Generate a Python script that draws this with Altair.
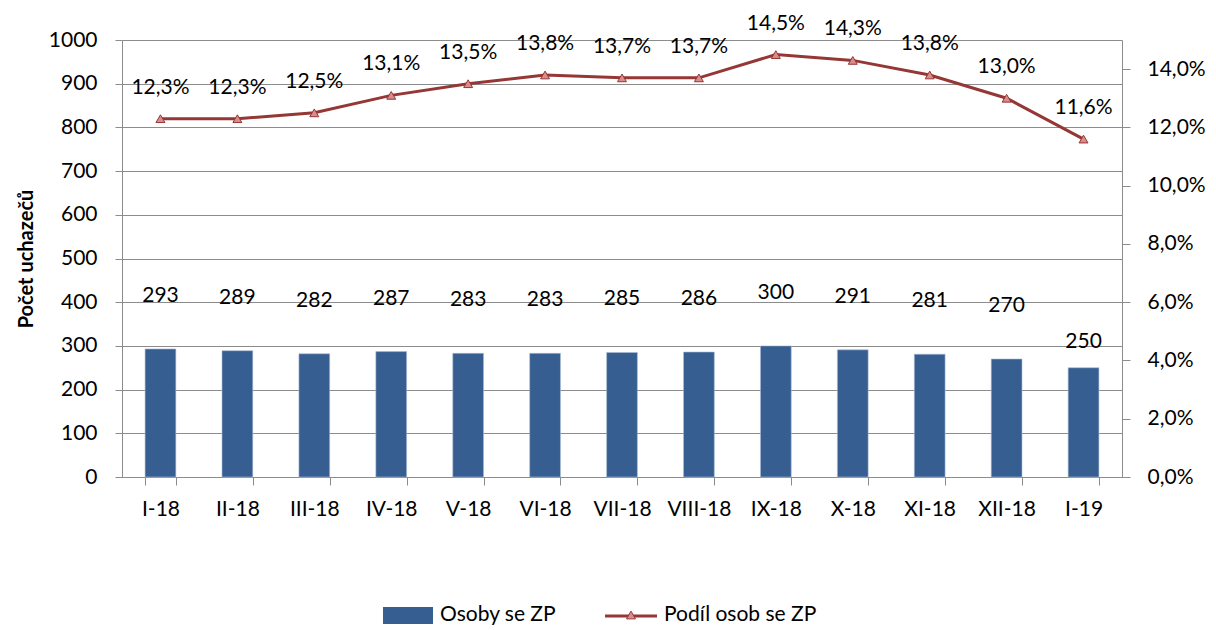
import altair as alt
import pandas as pd

months = ["I-18", "II-18", "III-18", "IV-18", "V-18", "VI-18", "VII-18",
          "VIII-18", "IX-18", "X-18", "XI-18", "XII-18", "I-19"]
persons = [293, 289, 282, 287, 283, 283, 285, 286, 300, 291, 281, 270, 250]
share = [12.3, 12.3, 12.5, 13.1, 13.5, 13.8, 13.7, 13.7, 14.5, 14.3, 13.8, 13.0, 11.6]

df = pd.DataFrame({"m": months, "n": persons, "p": [s / 100 for s in share]})

FONT = "Lato"
FS = 21
BLUE = "#375E90"
RED = "#953735"
PINK = "#D98C8A"
GRID = "#8C8C8C"

xenc = alt.X("m:N", sort=months, title=None,
             scale=alt.Scale(paddingInner=0.6, paddingOuter=0.3),
             axis=alt.Axis(labelAngle=0, tickBand="extent", tickSize=8, labelPadding=13,
                           domainColor=GRID, tickColor=GRID, labelFontSize=FS,
                           labelFont=FONT, labelColor="black", grid=False))

yl = alt.Y("n:Q", title="Počet uchazečů",
           scale=alt.Scale(domain=[0, 1000]),
           axis=alt.Axis(values=list(range(0, 1001, 100)), format="d", grid=True,
                         gridColor=GRID, domainColor=GRID, tickColor=GRID, tickSize=7,
                         labelPadding=18, labelFontSize=FS, labelFont=FONT,
                         labelColor="black", titleFont=FONT, titleFontSize=20,
                         titleFontWeight="bold", titleColor="black", titlePadding=12))

base = alt.Chart(df)

bars = base.mark_bar(color=BLUE, stroke="#A9BCD6", strokeWidth=0.6).encode(x=xenc, y=yl)
btxt = base.transform_filter(alt.datum.m != "I-19").mark_text(
    dy=-53, fontSize=FS, font=FONT, color="black").encode(x=xenc, y=yl, text="n:Q")
btxt2 = base.transform_filter(alt.datum.m == "I-19").mark_text(
    dy=-26, fontSize=FS, font=FONT, color="black").encode(x=xenc, y=yl, text="n:Q")
left = alt.layer(bars, btxt, btxt2)

yr = alt.Y("p:Q", title=None, scale=alt.Scale(domain=[0, 0.15]),
           axis=alt.Axis(orient="right", values=[0, 0.02, 0.04, 0.06, 0.08, 0.10, 0.12, 0.14],
                         labelExpr="replace(format(datum.value, '.1%'), '.', ',')",
                         grid=False, domainColor=GRID, tickColor=GRID, tickSize=8,
                         labelPadding=17, labelFontSize=FS, labelFont=FONT,
                         labelColor="black"))

line = base.mark_line(color=RED, strokeWidth=3).encode(x=xenc, y=yr)
pts = base.mark_point(shape="triangle-up", filled=True, fill=PINK, stroke=RED,
                      strokeWidth=1, size=80, opacity=1).encode(x=xenc, y=yr)
ptxt = base.transform_calculate(
    lab="replace(format(datum.p, '.1%'), '.', ',')").mark_text(
    dy=-31, fontSize=FS, font=FONT, color="black").encode(x=xenc, y=yr, text="lab:N")
right = alt.layer(line, pts, ptxt)

one = alt.Chart(pd.DataFrame({"a": [0]}))
leg_rect = one.mark_rect(color=BLUE).encode(
    x=alt.value(261), x2=alt.value(311), y=alt.value(567), y2=alt.value(584))
leg_t1 = one.mark_text(align="left", baseline="middle", fontSize=FS, font=FONT,
                       color="black", text="Osoby se ZP").encode(
    x=alt.value(318), y=alt.value(575))
leg_line = one.mark_rule(color=RED, strokeWidth=3).encode(
    x=alt.value(483), x2=alt.value(535), y=alt.value(576))
leg_pt = one.mark_point(shape="triangle-up", filled=True, fill=PINK, stroke=RED,
                        strokeWidth=1, size=80, opacity=1).encode(
    x=alt.value(509), y=alt.value(575))
leg_t2 = one.mark_text(align="left", baseline="middle", fontSize=FS, font=FONT,
                       color="black", text="Podíl osob se ZP").encode(
    x=alt.value(542), y=alt.value(575))

chart = alt.layer(left, right, leg_rect, leg_t1, leg_line, leg_pt, leg_t2).resolve_scale(
    y="independent").properties(
    width=1000, height=437,
    autosize=alt.AutoSizeParams(type="none"),
    padding={"left": 114, "top": 32, "right": 86, "bottom": 152},
).configure_view(stroke=None)

chart.save("out.html", embed_options={"renderer": "svg", "actions": False})
